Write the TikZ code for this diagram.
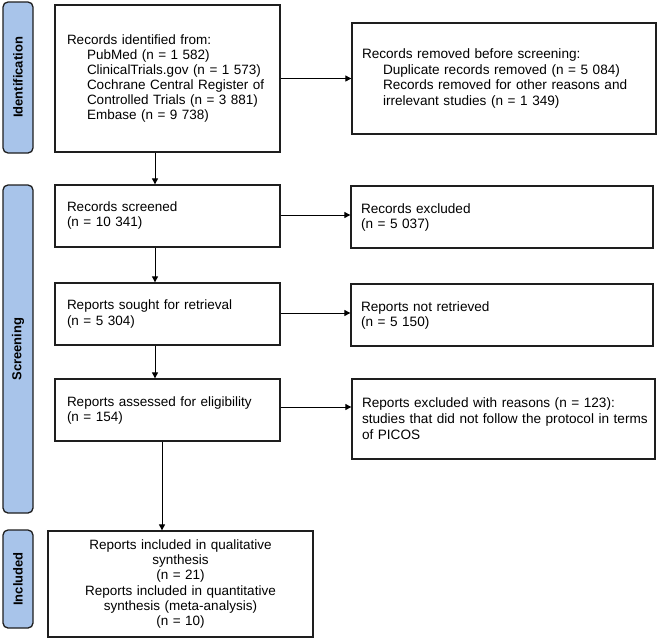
\documentclass[tikz,border=0pt]{standalone}
\usepackage{fontspec}
\setmainfont{Liberation Sans}
\usetikzlibrary{arrows.meta,calc}
\definecolor{sidefill}{RGB}{168,196,234}
\definecolor{edge}{RGB}{30,30,30}
\begin{document}
\begin{tikzpicture}[x=1pt,y=-1pt,
  box/.style={draw=edge,line width=1.3pt,fill=white,inner xsep=12pt,inner ysep=0pt,align=left,font=\fontsize{13.5}{15}\selectfont},
  rbox/.style={draw=edge,line width=1.3pt,fill=white,inner xsep=10pt,inner ysep=0pt,align=left,font=\fontsize{13.6}{15.7}\selectfont},
  cbox/.style={draw=edge,line width=1.3pt,fill=white,inner xsep=6pt,inner ysep=0pt,align=center,font=\fontsize{13.5}{15.3}\selectfont},
  side/.style={draw=edge,line width=1.3pt,fill=sidefill,rounded corners=5pt,rotate=90,minimum height=30pt,inner sep=0pt,font=\fontsize{13}{14}\selectfont\bfseries},
  arr/.style={draw=black,line width=0.9pt,-{Triangle[length=6pt,width=6pt]}}]
\useasboundingbox (0,0) rectangle (658,640);
% side labels
\node[side,minimum width=151pt] (sid) at (18,77.5) {Identification};
\node[side,minimum width=328pt] (ssc) at (18,349) {Screening};
\node[side,minimum width=98pt] (sin) at (18,579) {Included};
% left column
\node[box,text width=201pt,minimum height=147pt] (ident) at (167.5,78.5) {Records identified from:\\
\hspace*{20pt}PubMed (n = 1 582)\\
\hspace*{20pt}ClinicalTrials.gov (n = 1 573)\\
\hspace*{20pt}Cochrane Central Register of\\
\hspace*{20pt}Controlled Trials (n = 3 881)\\
\hspace*{20pt}Embase (n = 9 738)};
\node[box,text width=201pt,minimum height=62pt] (scr) at (167.5,216) {Records screened\\(n = 10 341)};
\node[box,text width=201pt,minimum height=62pt] (sought) at (167.5,314) {Reports sought for retrieval\\(n = 5 304)};
\node[box,text width=201pt,minimum height=62pt] (assess) at (167.5,410) {Reports assessed for eligibility\\(n = 154)};
\node[cbox,text width=253pt,minimum height=106pt] (incl) at (180.5,584) {Reports included in qualitative\\synthesis\\(n = 21)\\Reports included in quantitative\\synthesis (meta-analysis)\\(n = 10)};
% right column
\node[rbox,text width=284pt,minimum height=111pt] (rem) at (504,78.5) {Records removed before screening:\\
\hspace*{21pt}Duplicate records removed (n = 5 084)\\
\hspace*{21pt}Records removed for other reasons and\\
\hspace*{21pt}irrelevant studies (n = 1 349)};
\node[rbox,text width=282pt,minimum height=62pt,font=\fontsize{13.6}{15}\selectfont] (exc) at (502,217) {Records excluded\\(n = 5 037)};
\node[rbox,text width=282pt,minimum height=62pt,font=\fontsize{13.6}{15}\selectfont] (notr) at (502,315) {Reports not retrieved\\(n = 5 150)};
\node[rbox,text width=283pt,minimum height=80pt,font=\fontsize{13.6}{16}\selectfont] (rexc) at (503.5,419) {\mbox{Reports excluded with reasons (n = 123):}\\\mbox{studies that did not follow the protocol in terms}\\of PICOS};
% connectors
\draw[arr] (ident.east) -- (ident.east -| rem.west);
\draw[arr] ([yshift=1pt]scr.east) -- ([yshift=1pt]scr.east -| exc.west);
\draw[arr] ([yshift=1pt]sought.east) -- ([yshift=1pt]sought.east -| notr.west);
\draw[arr] ([yshift=3pt]assess.east) -- ([yshift=3pt]assess.east -| rexc.west);
\draw[arr] ([xshift=-12.5pt]ident.south) -- ([xshift=-12.5pt]ident.south |- scr.north);
\draw[arr] ([xshift=-12.5pt]scr.south) -- ([xshift=-12.5pt]scr.south |- sought.north);
\draw[arr] ([xshift=-12.5pt]sought.south) -- ([xshift=-12.5pt]sought.south |- assess.north);
\draw[arr] ([xshift=-5.5pt]assess.south) -- ([xshift=-5.5pt]assess.south |- incl.north);
\end{tikzpicture}
\end{document}
